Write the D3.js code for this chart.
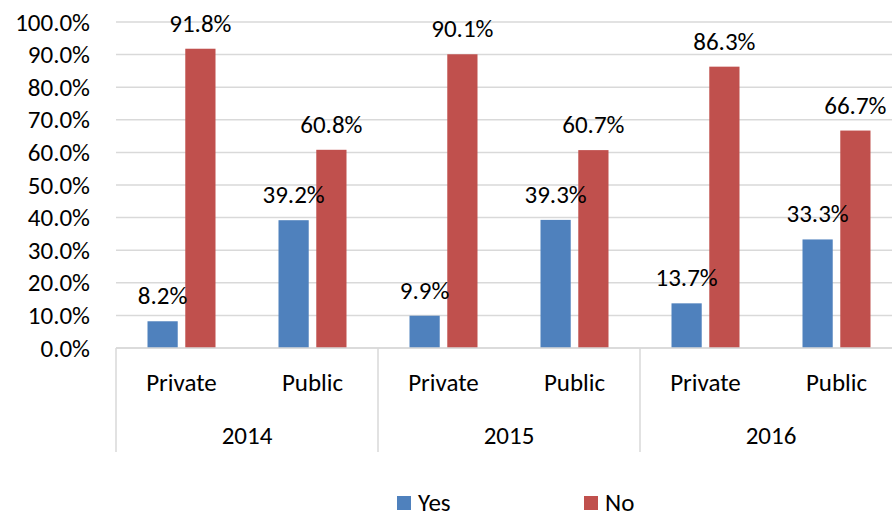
<!DOCTYPE html>
<html>
<head>
<meta charset="utf-8">
<script src="https://cdn.jsdelivr.net/npm/d3@7"></script>
<style>
  html, body { margin: 0; padding: 0; background: #fff; }
  svg { display: block; font-family: Carlito, Lato, "Open Sans", sans-serif; }
  .grid line { stroke: #d9d9d9; stroke-width: 1.5; }
  .axis text { fill: #000; }
</style>
</head>
<body>
<div class="chart"></div>
<script>
(function(){
    var years = ["2014", "2015", "2016"];
    var sectors = ["Private", "Public"];
    var seriesNames = ["Yes", "No"];
    var yesValues = [8.2, 39.2, 9.9, 39.3, 13.7, 33.3];
    var noValues = [91.8, 60.8, 90.1, 60.7, 86.3, 66.7];
    var yTicks = [0, 10, 20, 30, 40, 50, 60, 70, 80, 90, 100];
    var colors = ["#4f81bd", "#c0504d"];

    var containerWidth = 892, containerHeight = 517;
    var margin = {top: 22, left: 116, bottom: 169};
    var plotWidth = 786; // runs past the right edge, as in the original
    var height = containerHeight - margin.top - margin.bottom;
    var fontSize = 25;

    // one row per year/sector pair
    var rows = [];
    years.forEach(function(yr, i){
        sectors.forEach(function(s, j){
            var k = i * sectors.length + j;
            rows.push({year: yr, sector: s, key: yr + "-" + s, values: [yesValues[k], noValues[k]]});
        });
    });

    var svg = d3.select(".chart").append("svg")
        .attr("width", containerWidth)
        .attr("height", containerHeight);

    var g = svg.append("g")
        .attr("transform", "translate(" + margin.left + "," + margin.top + ")");

    var xYear = d3.scaleBand().domain(years).range([0, plotWidth]);
    var x = d3.scaleBand().domain(rows.map(function(d){ return d.key; })).range([0, plotWidth]);
    var y = d3.scaleLinear().domain([0, 100]).range([height, 0]);
    var xInner = d3.scaleBand().domain(seriesNames).range([x.bandwidth() / 2 - 34, x.bandwidth() / 2 + 34]).paddingInner(0.2);

    // gridlines
    g.append("g").attr("class", "grid")
        .selectAll("line").data(yTicks).enter().append("line")
        .attr("x1", 0).attr("x2", plotWidth)
        .attr("y1", function(d){ return y(d); })
        .attr("y2", function(d){ return y(d); });

    // y axis labels
    var yAxis = g.append("g").attr("class", "axis y-axis")
        .call(d3.axisLeft(y).tickValues(yTicks).tickSize(0).tickPadding(26)
            .tickFormat(function(d){ return d.toFixed(1) + "%"; }));
    yAxis.select(".domain").remove();
    yAxis.selectAll("text").attr("font-size", fontSize).attr("font-family", "Carlito, Lato, sans-serif");

    // bars
    var groups = g.selectAll(".cat").data(rows).enter().append("g")
        .attr("class", "cat")
        .attr("transform", function(d){ return "translate(" + x(d.key) + ",0)"; });

    groups.selectAll("rect").data(function(d){
            return d.values.map(function(v, i){ return {name: seriesNames[i], value: v, i: i}; });
        }).enter().append("rect")
        .attr("x", function(d){ return xInner(d.name); })
        .attr("y", function(d){ return y(d.value); })
        .attr("width", xInner.bandwidth())
        .attr("height", function(d){ return height - y(d.value); })
        .attr("fill", function(d){ return colors[d.i]; });

    // data labels
    groups.selectAll("text").data(function(d){
            return d.values.map(function(v, i){ return {name: seriesNames[i], value: v}; });
        }).enter().append("text")
        .attr("x", function(d){ return xInner(d.name) + xInner.bandwidth() / 2; })
        .attr("y", function(d){ return y(d.value) - 17; })
        .attr("text-anchor", "middle")
        .attr("font-size", fontSize)
        .text(function(d){ return d.value.toFixed(1) + "%"; });

    // category axis (two levels)
    var xAxis = g.append("g").attr("class", "axis x-axis")
        .attr("transform", "translate(0," + height + ")");
    xAxis.append("line").attr("x1", 0).attr("x2", plotWidth).attr("y1", 0).attr("y2", 0)
        .attr("stroke", "#d9d9d9").attr("stroke-width", 1.5);
    xAxis.selectAll(".sep").data(years.concat(["end"])).enter().append("line")
        .attr("class", "sep")
        .attr("x1", function(d, i){ return i * xYear.bandwidth(); })
        .attr("x2", function(d, i){ return i * xYear.bandwidth(); })
        .attr("y1", 0).attr("y2", 104)
        .attr("stroke", "#d9d9d9").attr("stroke-width", 1.5);
    xAxis.selectAll(".sector").data(rows).enter().append("text")
        .attr("class", "sector")
        .attr("x", function(d){ return x(d.key) + x.bandwidth() / 2; })
        .attr("y", 43)
        .attr("text-anchor", "middle")
        .attr("font-size", fontSize)
        .text(function(d){ return d.sector; });
    xAxis.selectAll(".year").data(years).enter().append("text")
        .attr("class", "year")
        .attr("x", function(d){ return xYear(d) + xYear.bandwidth() / 2; })
        .attr("y", 96)
        .attr("text-anchor", "middle")
        .attr("font-size", fontSize)
        .text(function(d){ return d; });

    // legend
    var legendX = d3.scalePoint().domain(seriesNames).range([397, 584]);
    var legend = svg.append("g").selectAll("g").data(seriesNames).enter().append("g")
        .attr("transform", function(d){ return "translate(" + legendX(d) + ",496)"; });
    legend.append("rect").attr("width", 14).attr("height", 14)
        .attr("fill", function(d, i){ return colors[i]; });
    legend.append("text").attr("x", 21).attr("y", 15).attr("font-size", fontSize)
        .text(function(d){ return d; });
}());
</script>
</body>
</html>
